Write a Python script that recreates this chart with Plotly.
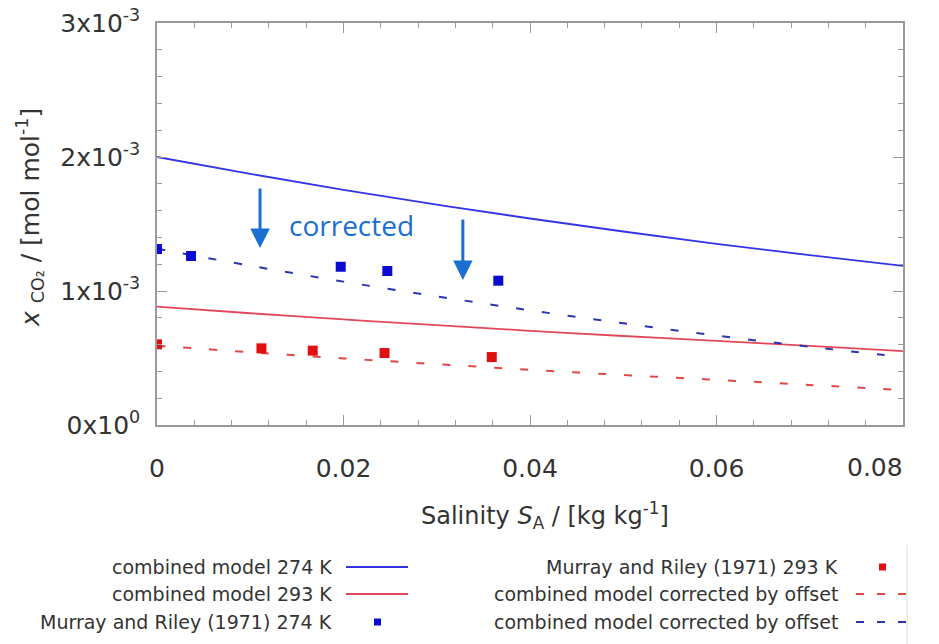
import plotly.graph_objects as go

# ---- data ----
sal_model = [0.0, 0.01, 0.02, 0.03, 0.04, 0.05, 0.06, 0.07, 0.08]
model_274 = [2.000e-3, 1.874e-3, 1.755e-3, 1.645e-3, 1.541e-3, 1.444e-3, 1.352e-3, 1.267e-3, 1.187e-3]
model_293 = [0.883e-3, 0.834e-3, 0.788e-3, 0.745e-3, 0.703e-3, 0.664e-3, 0.628e-3, 0.590e-3, 0.552e-3]
corr_293 = [0.592e-3, 0.543e-3, 0.497e-3, 0.454e-3, 0.412e-3, 0.373e-3, 0.337e-3, 0.299e-3, 0.261e-3]
corr_274 = [1.315e-3, 1.189e-3, 1.070e-3, 0.960e-3, 0.856e-3, 0.759e-3, 0.667e-3, 0.584e-3, 0.507e-3]

mr_274_x = [0.0, 0.00365, 0.0197, 0.0247, 0.0366]
mr_274_y = [1.313e-3, 1.261e-3, 1.181e-3, 1.149e-3, 1.077e-3]
mr_293_x = [0.0, 0.0112, 0.0167, 0.0244, 0.0359]
mr_293_y = [0.602e-3, 0.572e-3, 0.555e-3, 0.537e-3, 0.507e-3]

y_tick_vals = [0, 1e-3, 2e-3, 3e-3]
y_tick_text = ["0x10<sup>0</sup>", "1x10<sup>-3</sup>", "2x10<sup>-3</sup>", "3x10<sup>-3</sup>"]
x_tick_vals = [0, 0.02, 0.04, 0.06, 0.08]
x_tick_text = ["0", "0.02", "0.04", "0.06", "0.08"]

legend_left = ["combined model 274 K", "combined model 293 K", "Murray and Riley (1971) 274 K"]
legend_right = ["Murray and Riley (1971) 293 K", "combined model corrected by offset", "combined model corrected by offset"]

BLUE = "#3434e6"
RED = "#e0485a"
BLUE_D = "#2b35b0"
RED_D = "#e04848"
ARROW = "#1a6fd2"
FONT = "DejaVu Sans"
TXT = "#333333"

fig = go.Figure()
fig.add_trace(go.Scatter(x=sal_model, y=model_274, mode="lines", line=dict(color=BLUE, width=1.8, shape="spline")))
fig.add_trace(go.Scatter(x=sal_model, y=model_293, mode="lines", line=dict(color=RED, width=1.8, shape="spline")))
fig.add_trace(go.Scatter(x=sal_model, y=corr_274, mode="lines", line=dict(color=BLUE_D, width=2, dash="8px,18px", shape="spline")))
fig.add_trace(go.Scatter(x=sal_model, y=corr_293, mode="lines", line=dict(color=RED_D, width=2, dash="8px,18px", shape="spline")))
fig.add_trace(go.Scatter(x=mr_274_x, y=mr_274_y, mode="markers", marker=dict(symbol="square", size=10, color="#0a0ad0")))
fig.add_trace(go.Scatter(x=mr_293_x, y=mr_293_y, mode="markers", marker=dict(symbol="square", size=10, color="#e01010")))

axis_common = dict(showgrid=False, zeroline=False, showline=True, linecolor="#9a9a9a", linewidth=1.5,
                   mirror="ticks", ticks="inside", ticklen=10, tickcolor="#9a9a9a", tickwidth=1.2,
                   tickfont=dict(family=FONT, size=25, color=TXT), automargin=False)
# last x tick label is drawn as an annotation, shifted left like in the reference
fig.update_xaxes(range=[0, 0.08], tickvals=x_tick_vals, ticktext=x_tick_text[:-1] + [""],
                 minor=dict(ticks="inside", ticklen=5, dtick=0.004, tickcolor="#9a9a9a"),
                 ticklabelstandoff=20, **axis_common)
fig.update_yaxes(range=[0, 3e-3], tickvals=y_tick_vals, ticktext=y_tick_text,
                 minor=dict(ticks="inside", ticklen=5, dtick=2e-4, tickcolor="#9a9a9a"),
                 ticklabelstandoff=10, **axis_common)

def px(xp):
    return (xp - 157) / 746.0

def py(yp):
    return (425 - yp) / 402.0

ann = []
ann.append(dict(x=x_tick_vals[-1], xref="x", yref="paper", y=py(468), xanchor="center", yanchor="middle",
                xshift=-28, text=x_tick_text[-1], showarrow=False, font=dict(family=FONT, size=25, color=TXT)))
# axis titles
ann.append(dict(xref="paper", yref="paper", x=px(545), y=py(515), xanchor="center", yanchor="middle",
                text="Salinity <i>S</i><sub>A</sub> / [kg kg<sup>-1</sup>]", showarrow=False,
                font=dict(family=FONT, size=24, color=TXT)))
ann.append(dict(xref="paper", yref="paper", x=px(30), y=py(218), xanchor="center", yanchor="middle",
                text="<i>x</i> <sub>CO₂</sub> / [mol mol<sup>-1</sup>]", textangle=-90, showarrow=False,
                font=dict(family=FONT, size=25, color=TXT)))
# corrected arrows and text
ann.append(dict(x=0.01105, y=1.321e-3, ax=0, ay=-61, showarrow=True, arrowhead=2, arrowsize=1.3,
                arrowwidth=3, arrowcolor=ARROW, text=""))
ann.append(dict(x=0.0328, y=1.082e-3, ax=0, ay=-62, showarrow=True, arrowhead=2, arrowsize=1.3,
                arrowwidth=3, arrowcolor=ARROW, text=""))
ann.append(dict(x=0.0209, y=1.493e-3, text="corrected", showarrow=False, xanchor="center", yanchor="middle",
                font=dict(family="Open Sans", size=28, color=ARROW)))

rows = [567, 594, 622]
for t, yp in zip(legend_left, rows):
    ann.append(dict(xref="paper", yref="paper", x=px(334), y=py(yp), xanchor="right", yanchor="middle",
                    text=t, showarrow=False, font=dict(family=FONT, size=19, color=TXT)))
for t, yp in zip(legend_right, rows):
    ann.append(dict(xref="paper", yref="paper", x=px(840), y=py(yp), xanchor="right", yanchor="middle",
                    text=t, showarrow=False, font=dict(family=FONT, size=19, color=TXT)))

shapes = []
shapes.append(dict(type="line", xref="paper", yref="paper", x0=px(346), x1=px(408), y0=py(567), y1=py(567),
                   line=dict(color=BLUE, width=1.8)))
shapes.append(dict(type="line", xref="paper", yref="paper", x0=px(346), x1=px(408), y0=py(594), y1=py(594),
                   line=dict(color=RED, width=1.8)))
shapes.append(dict(type="rect", xref="paper", yref="paper", x0=px(374), x1=px(381), y0=py(618.5), y1=py(625.5),
                   fillcolor="#0a0ad0", line=dict(width=0)))
shapes.append(dict(type="rect", xref="paper", yref="paper", x0=px(879), x1=px(886), y0=py(563.5), y1=py(570.5),
                   fillcolor="#e01010", line=dict(width=0)))
shapes.append(dict(type="line", xref="paper", yref="paper", x0=px(856), x1=px(906), y0=py(594), y1=py(594),
                   line=dict(color=RED_D, width=2, dash="8px,13px")))
shapes.append(dict(type="line", xref="paper", yref="paper", x0=px(856), x1=px(906), y0=py(622), y1=py(622),
                   line=dict(color=BLUE_D, width=2, dash="8px,13px")))
shapes.append(dict(type="line", xref="paper", yref="paper", x0=px(907), x1=px(907), y0=py(545), y1=py(644),
                   line=dict(color="#dddddd", width=1)))

fig.update_layout(width=939, height=644, margin=dict(l=157, r=36, t=23, b=219, autoexpand=False),
                  paper_bgcolor="white", plot_bgcolor="white", showlegend=False,
                  annotations=ann, shapes=shapes)

fig.write_html("out.html", config={"displayModeBar": False},
               post_script="document.body.style.margin='0';document.body.style.overflow='hidden';")
